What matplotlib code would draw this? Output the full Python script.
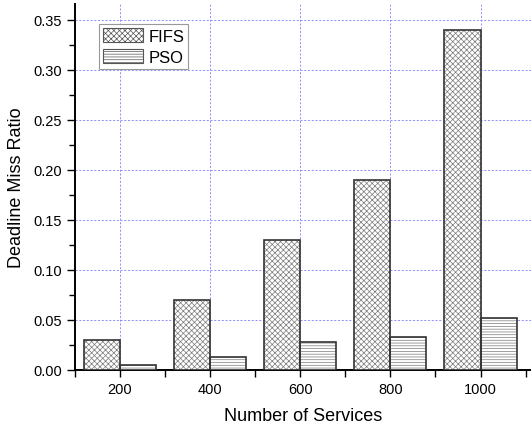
import matplotlib.pyplot as plt
from matplotlib.ticker import MultipleLocator

plt.rcParams['font.family'] = ['Liberation Sans', 'DejaVu Sans']
plt.rcParams['hatch.linewidth'] = 0.5

services = [200, 400, 600, 800, 1000]
fifs = [0.03, 0.07, 0.13, 0.19, 0.34]
pso = [0.005, 0.013, 0.028, 0.033, 0.052]

bar_w = 80

fig = plt.figure(figsize=(5.31, 4.27), dpi=100)
ax = fig.add_axes([75 / 531, 1 - 371 / 427, 1 - 75 / 531, 366 / 427])

# hatch layer in gray, then outline in dark
ax.bar(services, fifs, width=-bar_w, align='edge', color='white',
       edgecolor='#7a7a7a', hatch='xxxxxx', linewidth=0, zorder=3)
ax.bar(services, pso, width=bar_w, align='edge', color='white',
       edgecolor='#7a7a7a', hatch='------', linewidth=0, zorder=3)
ax.bar(services, fifs, width=-bar_w, align='edge', fill=False,
       edgecolor='#333333', linewidth=1.2, zorder=4)
ax.bar(services, pso, width=bar_w, align='edge', fill=False,
       edgecolor='#333333', linewidth=1.2, zorder=4)

# legend proxies
h1 = plt.Rectangle((0, 0), 1, 1, facecolor='white', edgecolor='#555555',
                   hatch='xxxxxx', linewidth=0.8)
h2 = plt.Rectangle((0, 0), 1, 1, facecolor='white', edgecolor='#555555',
                   hatch='------', linewidth=0.8)
leg = ax.legend([h1, h2], ['FIFS', 'PSO'], loc='upper left',
                bbox_to_anchor=(0.053, 0.945), fontsize=12, fancybox=False,
                edgecolor='#999999', framealpha=1, borderpad=0.25,
                handlelength=2.4, handleheight=0.9, handletextpad=0.3,
                labelspacing=0.3, borderaxespad=0)
leg.get_frame().set_linewidth(0.8)

ax.set_xlim(100, 1112)
ax.set_ylim(0, 0.366)
ax.set_xticks(services)
ax.set_xticks([100, 300, 500, 700, 900, 1100], minor=True)
ax.yaxis.set_major_locator(MultipleLocator(0.05))
ax.yaxis.set_minor_locator(MultipleLocator(0.025))
ax.yaxis.set_major_formatter(plt.FormatStrFormatter('%.2f'))

ax.tick_params(which='major', direction='out', length=6, width=1.0,
               labelsize=10.5, colors='black')
ax.tick_params(which='minor', direction='out', length=4, width=1.0)
ax.tick_params(axis='x', which='both', length=5)

ax.spines['top'].set_visible(False)
ax.spines['right'].set_visible(False)
ax.spines['left'].set_linewidth(1.4)
ax.spines['bottom'].set_linewidth(1.4)

ax.grid(True, which='major', color='#8080ff', linestyle=(0, (2.5, 2)),
        linewidth=0.6, zorder=0)
ax.set_axisbelow(True)

ax.set_xlabel('Number of Services', fontsize=13, labelpad=8)
ax.set_ylabel('Deadline Miss Ratio', fontsize=13, labelpad=6)

fig.savefig('out.png', dpi=100)
